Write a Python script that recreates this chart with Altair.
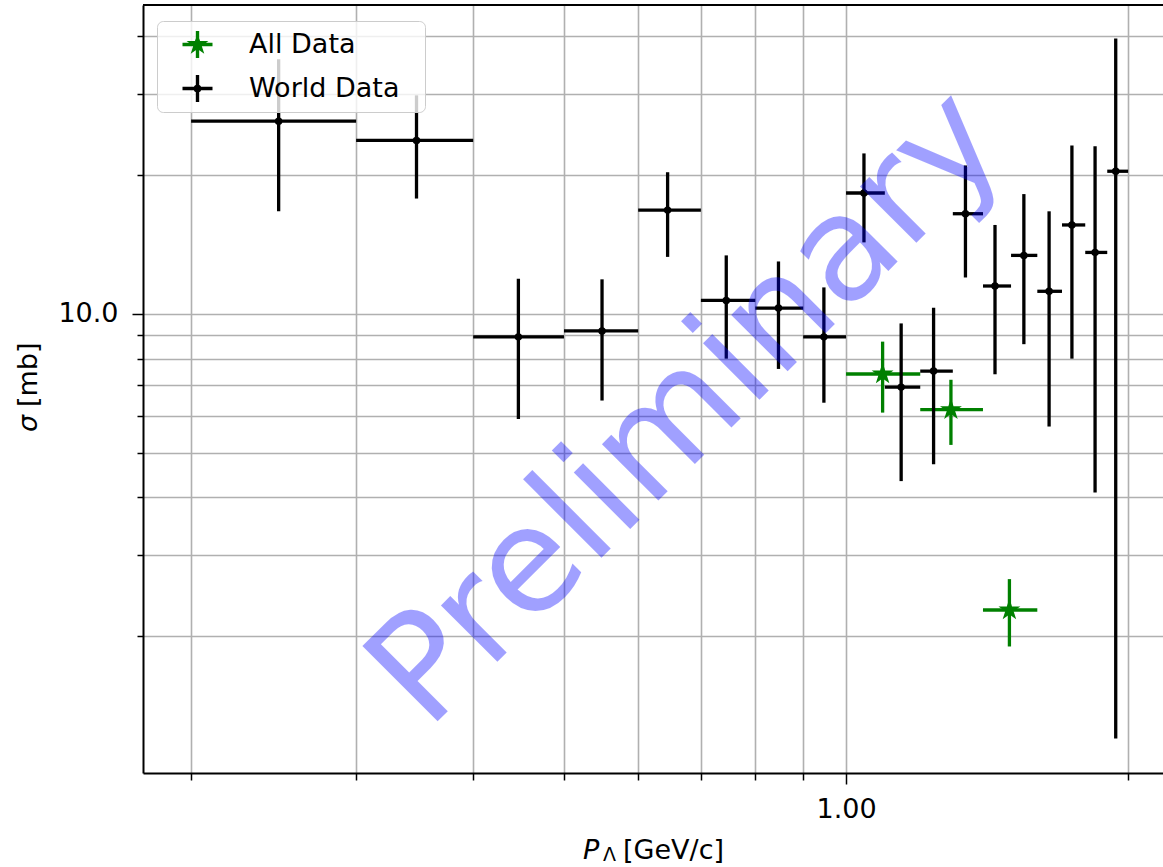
import math
import altair as alt
import pandas as pd

# ---------------- data ----------------
# World Data (black): bin centre, bin edges, cross-section and error
world_p = [0.248, 0.348, 0.447, 0.549, 0.645, 0.745, 0.847, 0.947, 1.045,
           1.145, 1.24, 1.341, 1.442, 1.548, 1.647, 1.742, 1.844, 1.94]
world_p_lo = [0.2, 0.3, 0.4, 0.5, 0.6, 0.7, 0.8, 0.9, 1.0,
              1.1, 1.2, 1.3, 1.4, 1.5, 1.6, 1.7, 1.8, 1.9]
world_p_hi = [0.3, 0.4, 0.5, 0.6, 0.7, 0.8, 0.9, 1.0, 1.1,
              1.2, 1.3, 1.4, 1.5, 1.6, 1.7, 1.8, 1.9, 2.0]
world_sigma = [26.2, 23.8, 8.92, 9.19, 16.8, 10.7, 10.3, 8.92, 18.3,
               6.94, 7.52, 16.5, 11.5, 13.4, 11.2, 15.6, 13.6, 20.4]
world_err = [9.5, 6.0, 3.0, 2.7, 3.5, 2.7, 2.7, 2.5, 4.0,
             2.6, 2.8, 4.5, 4.1, 4.8, 5.5, 7.6, 9.5, 19.2]

# All Data (green)
all_p = [1.094, 1.294, 1.494]
all_p_lo = [1.0, 1.2, 1.4]
all_p_hi = [1.2, 1.4, 1.6]
all_sigma = [7.41, 6.20, 2.28]
all_err = [1.3, 1.0, 0.38]

series_names = ["All Data", "World Data"]
series_colors = ["green", "black"]

x_ticks = [0.2, 0.3, 0.4, 0.5, 0.6, 0.7, 0.8, 0.9, 1.0, 2.0]
y_ticks = [2, 3, 4, 5, 6, 7, 8, 9, 10, 20, 30, 40]
x_domain = [0.1777, 2.179]
y_domain = [1.01, 46.8]

watermark = ["Preliminary"]
x_title_parts = ["P", "\u039b", "[GeV/c]"]
y_title_parts = ["\u03c3", "[mb]"]

# ---------------- table ----------------
rows = []
for name, P, LO, HI, S, E in [
    ("All Data", all_p, all_p_lo, all_p_hi, all_sigma, all_err),
    ("World Data", world_p, world_p_lo, world_p_hi, world_sigma, world_err),
]:
    for p, lo, hi, s, e in zip(P, LO, HI, S, E):
        rows.append({"series": name, "p": p, "p_lo": lo, "p_hi": hi,
                     "sigma": s, "s_lo": s - e, "s_hi": s + e})
df = pd.DataFrame(rows)

# ---------------- shapes ----------------
def star_path(R, ratio=0.381966):
    pts = []
    for k in range(10):
        r = R if k % 2 == 0 else R * ratio
        a = -math.pi / 2 + k * math.pi / 5
        pts.append(f"{r * math.cos(a):.4f},{r * math.sin(a):.4f}")
    return "M" + "L".join(pts) + "Z"

cross = "M-1.25,-0.14H1.25V0.14H-1.25Z M-0.14,-1.12H0.14V1.12H-0.14Z "
dot = "M0.34,0A0.34,0.34,0,1,1,-0.34,0A0.34,0.34,0,1,1,0.34,0Z"
legend_shapes = [cross + star_path(0.96), cross + dot]
data_star = star_path(1.0)

# ---------------- scales / axes ----------------
FONT = "DejaVu Sans"
xs = alt.Scale(type="log", domain=x_domain, nice=False)
ys = alt.Scale(type="log", domain=y_domain, nice=False)

xaxis = alt.Axis(values=x_ticks, labelExpr="datum.value == 1 ? '1.00' : ''",
                 title=None, grid=True, gridColor="#b0b0b0", gridWidth=1.6,
                 domainColor="black", domainWidth=2, tickColor="black",
                 tickWidth=1.5,
                 tickSize={"condition": {"test": "datum.value == 1", "value": 11},
                           "value": 7},
                 labelFont=FONT, labelFontSize=27,
                 labelColor="black", labelPadding=12)
yaxis = alt.Axis(values=y_ticks, labelExpr="datum.value == 10 ? '10.0' : ''",
                 title=None, grid=True, gridColor="#b0b0b0", gridWidth=1.6,
                 domainColor="black", domainWidth=2, tickColor="black",
                 tickWidth=1.5,
                 tickSize={"condition": {"test": "datum.value == 10", "value": 11},
                           "value": 6},
                 labelFont=FONT, labelFontSize=27,
                 labelColor="black", labelPadding=14)

base = alt.Chart(df)


def series_layers(name, color, marker):
    b = base.transform_filter(alt.datum.series == name)
    h = b.mark_rule(strokeWidth=3.3, color=color).encode(
        x=alt.X("p_lo:Q", scale=xs, axis=xaxis), x2="p_hi:Q",
        y=alt.Y("sigma:Q", scale=ys, axis=yaxis))
    v = b.mark_rule(strokeWidth=3.3, color=color).encode(
        x=alt.X("p:Q", scale=xs, axis=xaxis),
        y=alt.Y("s_lo:Q", scale=ys, axis=yaxis), y2="s_hi:Q")
    m = b.mark_point(color=color, **marker).encode(
        x=alt.X("p:Q", scale=xs, axis=xaxis),
        y=alt.Y("sigma:Q", scale=ys, axis=yaxis))
    return [h, v, m]


green = series_layers("All Data", series_colors[0],
                      dict(shape=data_star, filled=True, size=529,
                           opacity=1, strokeWidth=0))
black = series_layers("World Data", series_colors[1],
                      dict(shape="circle", filled=True, size=56,
                           opacity=1, strokeWidth=0))

# invisible right-hand title only widens the legend frame
leg = alt.Legend(title="W", titleOrient="right", titleFontSize=10,
                 titleColor="rgba(0,0,0,0)", titlePadding=6,
                 orient="none", legendX=14, legendY=16, padding=10,
                 fillColor="rgba(255,255,255,0.8)", strokeColor="#cccccc",
                 cornerRadius=6, labelFont=FONT, labelFontSize=27,
                 labelColor="black", symbolOffset=17, labelOffset=38,
                 rowPadding=16, symbolOpacity=1, symbolStrokeWidth=0,
                 symbolSize=576)
legend_layer = base.mark_point(filled=True, opacity=0, size=576).encode(
    x=alt.X("p:Q", scale=xs, axis=xaxis),
    y=alt.Y("sigma:Q", scale=ys, axis=yaxis),
    color=alt.Color("series:N", scale=alt.Scale(domain=series_names, range=series_colors),
                    legend=leg),
    shape=alt.Shape("series:N", scale=alt.Scale(domain=series_names, range=legend_shapes),
                    legend=leg),
)


def text_layer(txt, x, y, size, style="normal", angle=0, align="left",
               baseline="alphabetic", color="black", opacity=1):
    return alt.Chart(pd.DataFrame({"t": [txt]})).mark_text(
        font=FONT, fontSize=size, fontStyle=style, angle=angle, align=align,
        baseline=baseline, color=color, opacity=opacity
    ).encode(x=alt.value(x), y=alt.value(y), text="t:N")


wm = text_layer(watermark[0], 545, 404, 146, angle=315, align="center",
                baseline="middle", color="blue", opacity=0.37)

xt1 = text_layer(x_title_parts[0], 440, 854, 27, style="italic")
xt2 = text_layer(x_title_parts[1], 460, 856, 19)
xt3 = text_layer(x_title_parts[2], 480, 854, 27)
yt1 = text_layer(y_title_parts[0], -106, 427, 27, style="italic", angle=270)
yt2 = text_layer(y_title_parts[1], -106, 402, 27, angle=270)

top_border = alt.Chart(pd.DataFrame({"a": [0]})).mark_rule(
    color="black", strokeWidth=2).encode(x=alt.value(0), x2=alt.value(1020),
                                         y=alt.value(0))

chart = alt.layer(
    *green, *black, legend_layer, wm, top_border, xt1, xt2, xt3, yt1, yt2
).properties(
    width=1020, height=768,
    autosize=alt.AutoSizeParams(type="none"),
    padding={"left": 143, "top": 5, "right": 0, "bottom": 94},
).configure_view(stroke=None)

chart.save("out.html", embed_options={"renderer": "svg", "actions": False})
